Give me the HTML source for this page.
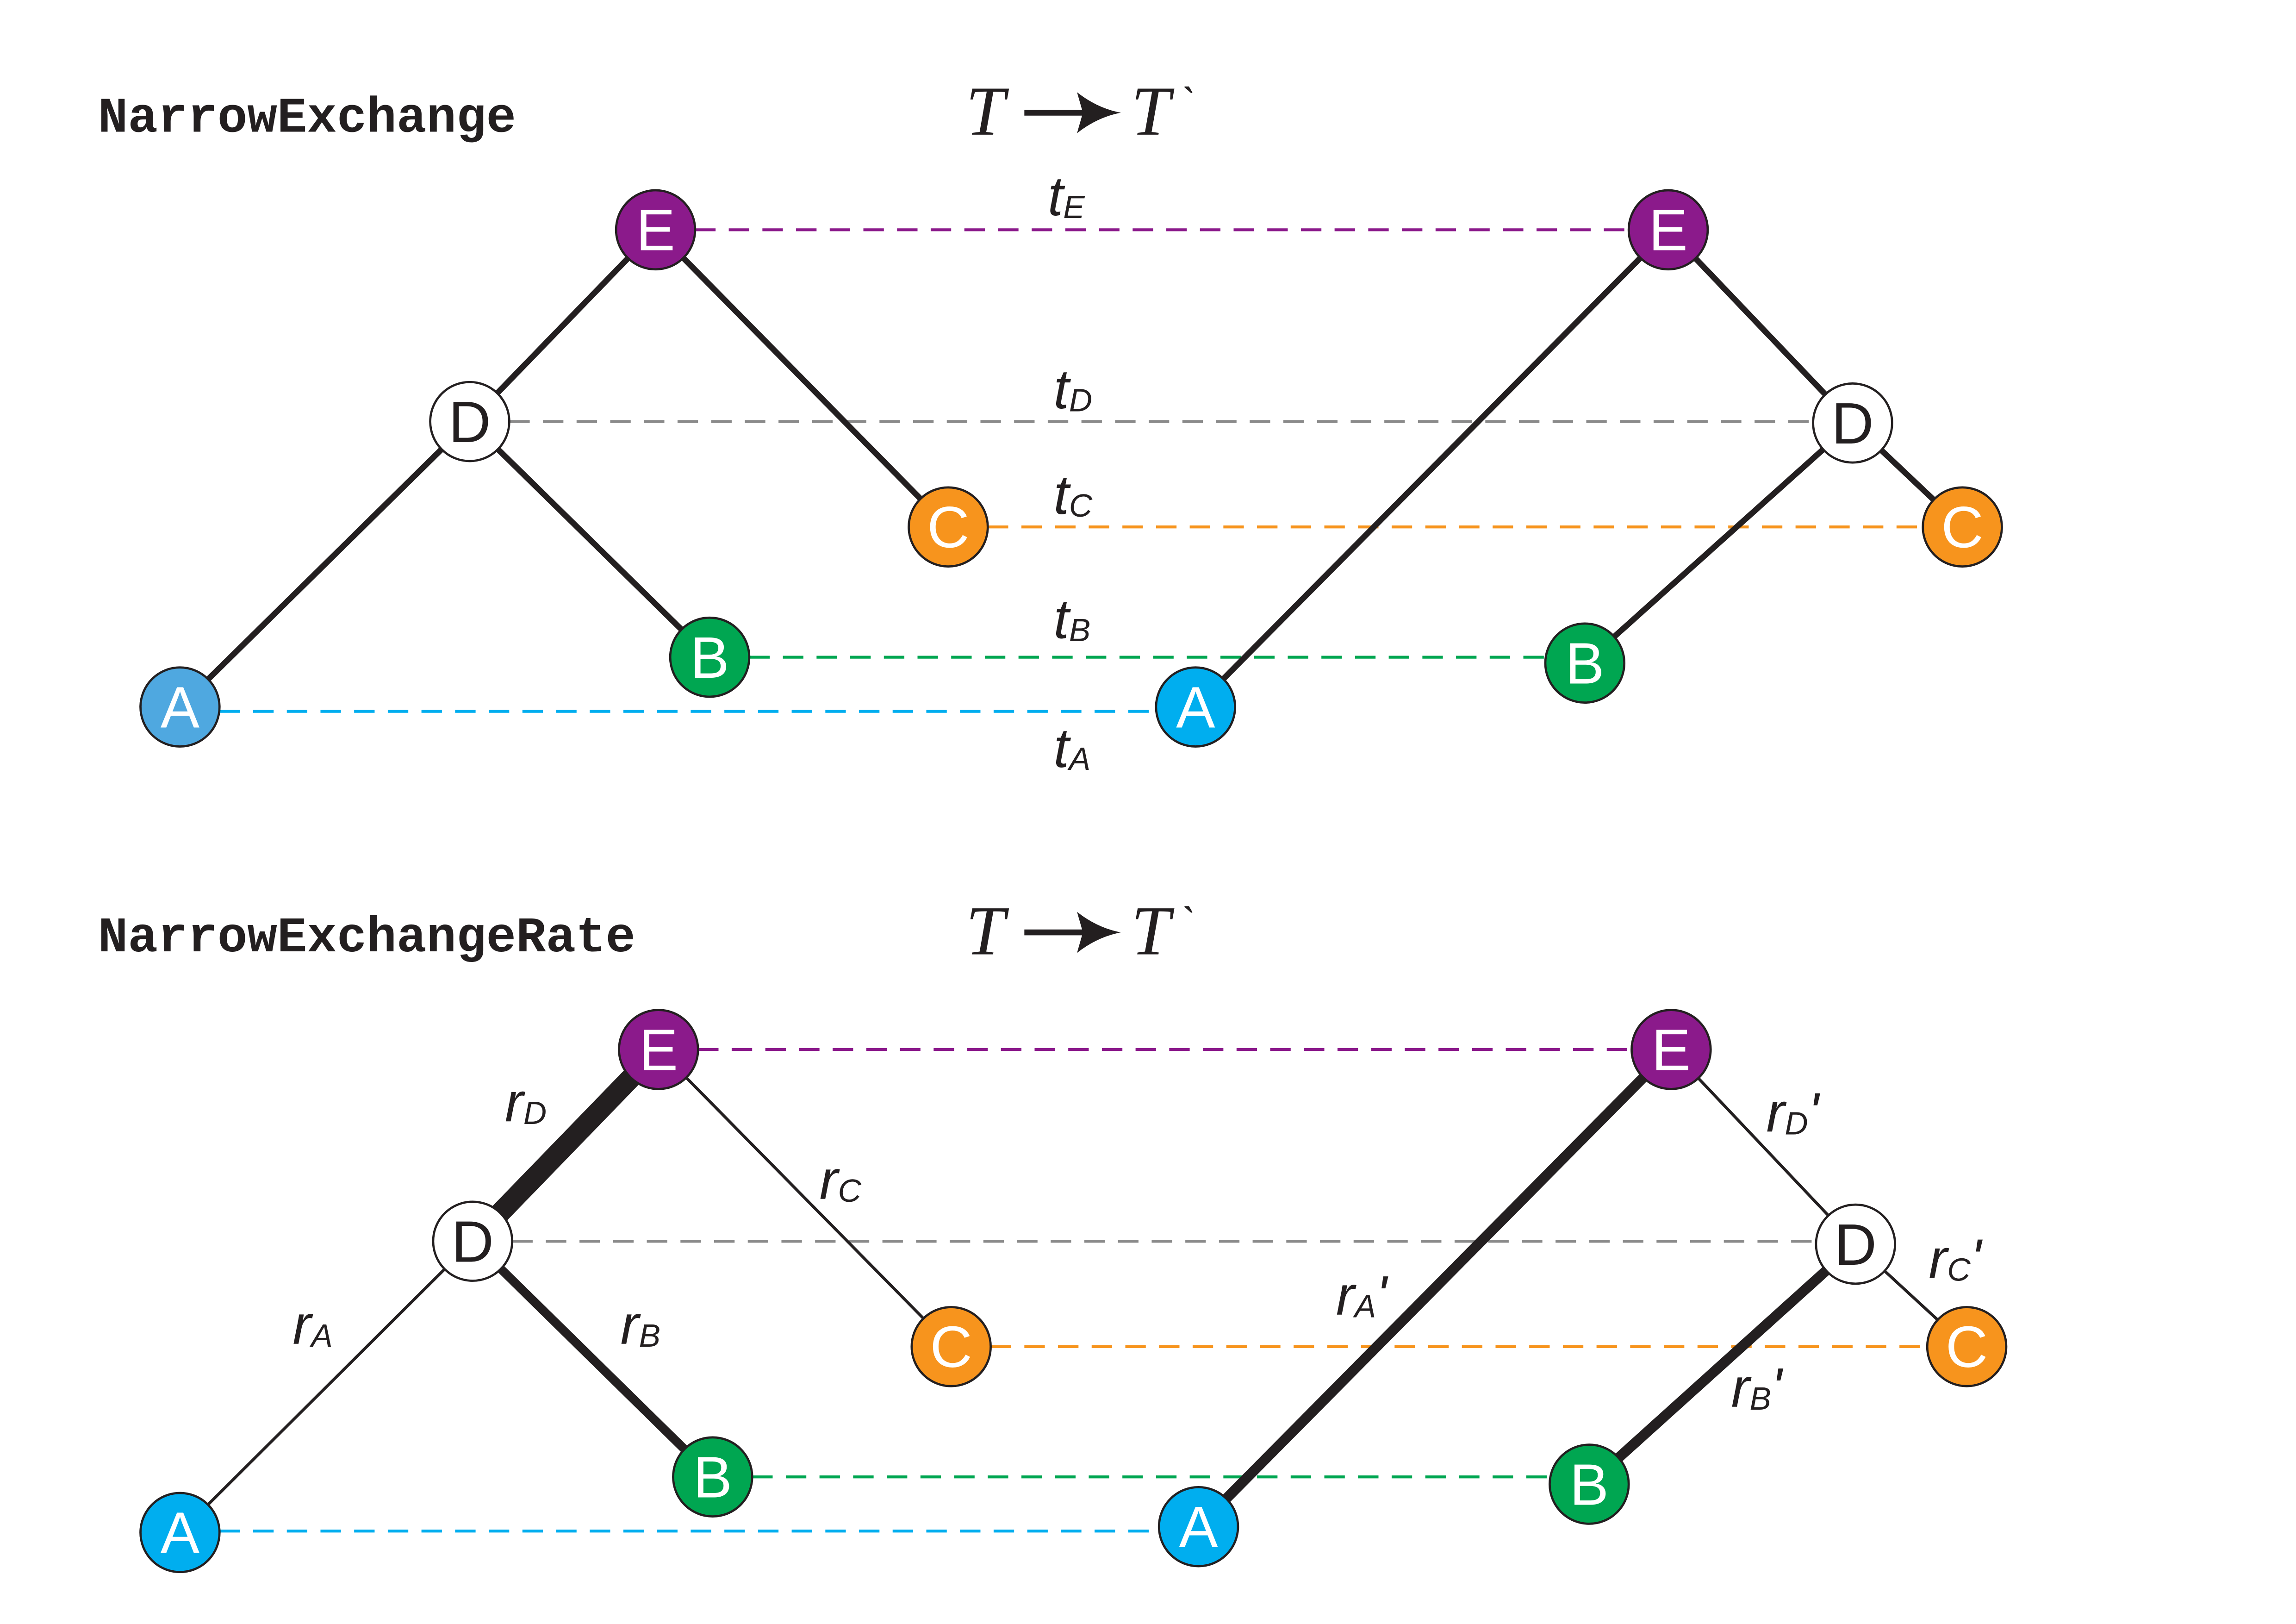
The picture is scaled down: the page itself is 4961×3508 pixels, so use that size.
<!DOCTYPE html>
<html><head><meta charset="utf-8">
<style>html,body{margin:0;padding:0;background:#fff;}svg{display:block}</style>
</head><body>
<svg width="4961" height="3508" viewBox="0 0 1569 1109.5" preserveAspectRatio="none" xmlns="http://www.w3.org/2000/svg">
<rect width="1569" height="1110" fill="#fff"/>
<defs>
<style>
.t{font-family:"Liberation Sans",sans-serif;font-style:italic;font-size:38px;fill:#231f20}
.s{font-size:22px}
.n{font-family:"Liberation Sans",sans-serif;font-size:40px;fill:#fff;text-anchor:middle}
.ttl{font-family:"Liberation Mono",monospace;font-weight:bold;font-size:34px;fill:#231f20}
.sc{font-family:"Liberation Serif",serif;font-style:italic;font-size:48px;fill:#231f20}
</style>
</defs>

<text class="ttl" x="67" y="90">NarrowExchange</text>
<text class="ttl" x="67" y="650">NarrowExchangeRate</text>
<g>
<text class="sc" x="660" y="92">T</text>
<line x1="700" y1="77" x2="745" y2="77" stroke="#231f20" stroke-width="4"/>
<path d="M736,63 Q750,74 766,77 Q750,80 736,91 L740,77 Z" fill="#231f20"/>
<text class="sc" x="773" y="92">T</text>
<text class="sc" x="805" y="80" style="font-size:30px">`</text>
</g>
<g transform="translate(0,560)">
<text class="sc" x="660" y="92">T</text>
<line x1="700" y1="77" x2="745" y2="77" stroke="#231f20" stroke-width="4"/>
<path d="M736,63 Q750,74 766,77 Q750,80 736,91 L740,77 Z" fill="#231f20"/>
<text class="sc" x="773" y="92">T</text>
<text class="sc" x="805" y="80" style="font-size:30px">`</text>
</g>

<g stroke-width="2" stroke-dasharray="14,9" fill="none">
<line x1="475" y1="157" x2="1113" y2="157" stroke="#8b1a8b"/>
<line x1="348" y1="288" x2="1239" y2="288" stroke="#8a8a8a"/>
<line x1="675" y1="360" x2="1314" y2="360" stroke="#f7941d"/>
<line x1="512" y1="449" x2="1056" y2="449" stroke="#00a651"/>
<line x1="150" y1="486" x2="790" y2="486" stroke="#00aeef"/>
</g>
<g stroke="#231f20" stroke-width="4">
<line x1="448" y1="157" x2="321" y2="288"/>
<line x1="448" y1="157" x2="648" y2="360"/>
<line x1="321" y1="288" x2="123" y2="483"/>
<line x1="321" y1="288" x2="485" y2="449"/>
<line x1="1140" y1="157" x2="817" y2="483"/>
<line x1="1140" y1="157" x2="1266" y2="289"/>
<line x1="1266" y1="289" x2="1341" y2="360"/>
<line x1="1266" y1="289" x2="1083" y2="453"/>
</g>
<text class="t" x="716" y="147">t<tspan class="s" dy="2">E</tspan></text>
<text class="t" x="720" y="279">t<tspan class="s" dy="2">D</tspan></text>
<text class="t" x="720" y="351">t<tspan class="s" dy="2">C</tspan></text>
<text class="t" x="720" y="436">t<tspan class="s" dy="2">B</tspan></text>
<text class="t" x="720" y="524">t<tspan class="s" dy="2">A</tspan></text>
<g stroke="#231f20" stroke-width="1.5">
<circle cx="448" cy="157" r="27" fill="#8b1a8b"/>
<circle cx="321" cy="288" r="27" fill="#fff"/>
<circle cx="648" cy="360" r="27" fill="#f7941d"/>
<circle cx="485" cy="449" r="27" fill="#00a651"/>
<circle cx="123" cy="483" r="27" fill="#4fa8e0"/>
<circle cx="1140" cy="157" r="27" fill="#8b1a8b"/>
<circle cx="1266" cy="289" r="27" fill="#fff"/>
<circle cx="1341" cy="360" r="27" fill="#f7941d"/>
<circle cx="1083" cy="453" r="27" fill="#00a651"/>
<circle cx="817" cy="483" r="27" fill="#00aeef"/>
</g>
<g>
<text class="n" x="448" y="171">E</text>
<text class="n" x="321" y="302" style="fill:#231f20">D</text>
<text class="n" x="648" y="374">C</text>
<text class="n" x="485" y="463">B</text>
<text class="n" x="123" y="497">A</text>
<text class="n" x="1140" y="171">E</text>
<text class="n" x="1266" y="303" style="fill:#231f20">D</text>
<text class="n" x="1341" y="374">C</text>
<text class="n" x="1083" y="467">B</text>
<text class="n" x="817" y="497">A</text>
</g>

<g stroke-width="2" stroke-dasharray="14,9" fill="none">
<line x1="477" y1="717" x2="1115" y2="717" stroke="#8b1a8b"/>
<line x1="350" y1="848" x2="1241" y2="848" stroke="#8a8a8a"/>
<line x1="677" y1="920" x2="1317" y2="920" stroke="#f7941d"/>
<line x1="514" y1="1009" x2="1059" y2="1009" stroke="#00a651"/>
<line x1="150" y1="1046" x2="792" y2="1046" stroke="#00aeef"/>
</g>
<g stroke="#231f20">
<line x1="450" y1="717" x2="323" y2="848" stroke-width="14"/>
<line x1="450" y1="717" x2="650" y2="920" stroke-width="2"/>
<line x1="323" y1="848" x2="123" y2="1047" stroke-width="2"/>
<line x1="323" y1="848" x2="487" y2="1009" stroke-width="6"/>
<line x1="1142" y1="717" x2="819" y2="1043" stroke-width="7"/>
<line x1="1142" y1="717" x2="1268" y2="850" stroke-width="2"/>
<line x1="1268" y1="850" x2="1344" y2="920" stroke-width="2"/>
<line x1="1268" y1="850" x2="1086" y2="1014" stroke-width="7"/>
</g>
<text class="t" x="345" y="766">r<tspan class="s" dy="2">D</tspan></text>
<text class="t" x="560" y="819">r<tspan class="s" dy="2">C</tspan></text>
<text class="t" x="200" y="918">r<tspan class="s" dy="2">A</tspan></text>
<text class="t" x="424" y="918">r<tspan class="s" dy="2">B</tspan></text>
<text class="t" x="913" y="898">r<tspan class="s" dy="2">A</tspan><tspan dy="-2">'</tspan></text>
<text class="t" x="1207" y="773">r<tspan class="s" dy="2">D</tspan><tspan dy="-2">'</tspan></text>
<text class="t" x="1318" y="873">r<tspan class="s" dy="2">C</tspan><tspan dy="-2">'</tspan></text>
<text class="t" x="1183" y="961">r<tspan class="s" dy="2">B</tspan><tspan dy="-2">'</tspan></text>
<g stroke="#231f20" stroke-width="1.5">
<circle cx="450" cy="717" r="27" fill="#8b1a8b"/>
<circle cx="323" cy="848" r="27" fill="#fff"/>
<circle cx="650" cy="920" r="27" fill="#f7941d"/>
<circle cx="487" cy="1009" r="27" fill="#00a651"/>
<circle cx="123" cy="1047" r="27" fill="#00aeef"/>
<circle cx="1142" cy="717" r="27" fill="#8b1a8b"/>
<circle cx="1268" cy="850" r="27" fill="#fff"/>
<circle cx="1344" cy="920" r="27" fill="#f7941d"/>
<circle cx="1086" cy="1014" r="27" fill="#00a651"/>
<circle cx="819" cy="1043" r="27" fill="#00aeef"/>
</g>
<g>
<text class="n" x="450" y="731">E</text>
<text class="n" x="323" y="862" style="fill:#231f20">D</text>
<text class="n" x="650" y="934">C</text>
<text class="n" x="487" y="1023">B</text>
<text class="n" x="123" y="1061">A</text>
<text class="n" x="1142" y="731">E</text>
<text class="n" x="1268" y="864" style="fill:#231f20">D</text>
<text class="n" x="1344" y="934">C</text>
<text class="n" x="1086" y="1028">B</text>
<text class="n" x="819" y="1057">A</text>
</g>
</svg>
</body></html>
